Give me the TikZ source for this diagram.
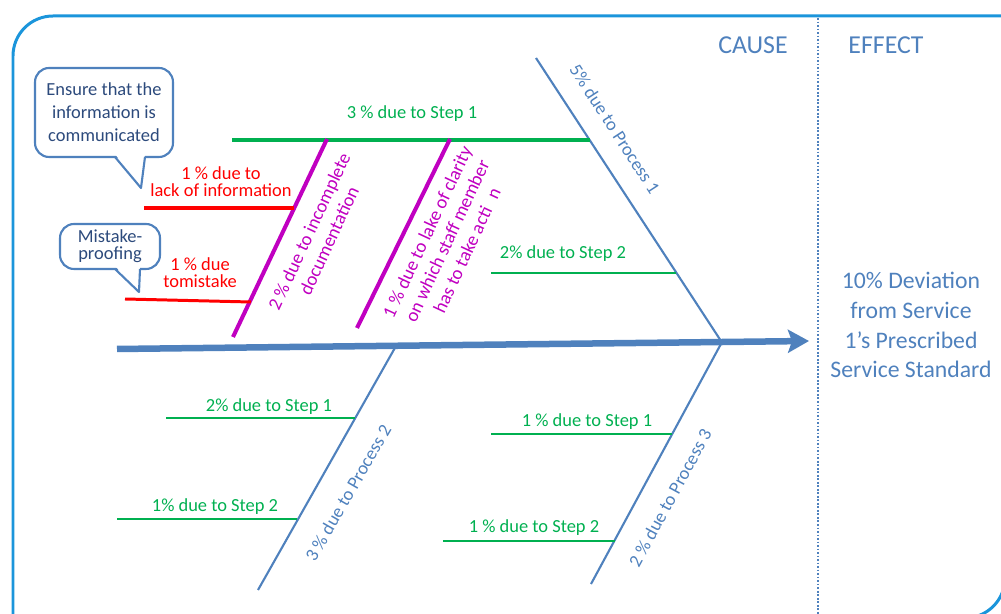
\documentclass[tikz,border=0pt]{standalone}
\usepackage{fontspec}
\setmainfont{Carlito}
\usetikzlibrary{arrows.meta}
\definecolor{fbblue}{HTML}{4F81BD}
\definecolor{fbframe}{HTML}{1B95DB}
\definecolor{fbgreen}{HTML}{00B050}
\definecolor{fbred}{HTML}{FF0000}
\definecolor{fbpurple}{HTML}{C000C0}
\definecolor{fbnavy}{HTML}{2C4A7C}

\begin{document}
\begin{tikzpicture}[x=0.02cm, y=-0.02cm,
    bone/.style={draw=fbblue, line width=1.2pt},
    grnline/.style={draw=fbgreen, line width=1.4pt},
    txt/.style={font=\fontsize{10.5}{10}\selectfont, inner sep=0pt, align=center},
    grnlbl/.style={txt, text=fbgreen},
    redlbl/.style={txt, text=fbred, font=\fontsize{10.5}{9.6}\selectfont},
    purlbl/.style={txt, text=fbpurple, font=\fontsize{10.7}{12.5}\selectfont},
    proclbl/.style={txt, text=fbblue},
    headlbl/.style={inner sep=0pt, text=fbblue, font=\fontsize{14.7}{16}\selectfont},
    callout/.style={draw=fbblue, line width=1.2pt, fill=white, rounded corners=0.28cm,
      align=center, text=fbnavy, inner sep=0pt},
  ]
  \useasboundingbox (0,0) rectangle (1001,614);
  \begin{scope}
    \clip (0,0) rectangle (1001,614);
    \draw[fbframe, line width=1.7pt, rounded corners=0.8cm] (13,660) -- (13,16) -- (1060,16);
    \draw[fbframe, line width=1.7pt, rounded corners=0.8cm] (1005,400) -- (1005,618) -- (900,618);
  \end{scope}
  \draw[fbblue, line width=0.6pt, dash pattern=on 1pt off 1pt] (818,18) -- (818,614);

  \node[headlbl] (cause) at (753,45) {CAUSE};
  \node[headlbl] (effecthead) at (886,45) {EFFECT};
  \node[txt, text=fbblue, font=\fontsize{13.5}{17}\selectfont] (effect) at (911,325)
    {10\% Deviation\\from Service\\1’s Prescribed\\Service Standard};

  % spine and bones
  \coordinate (tail) at (117,349);
  \coordinate (head) at (809,341);
  \coordinate (p1top) at (536,58);
  \coordinate (p1foot) at (721,341);
  \coordinate (p2top) at (396,346);
  \coordinate (p2end) at (258,590);
  \coordinate (p3top) at (722,342);
  \coordinate (p3end) at (591,584);
  \draw[fbblue, line width=3.7pt, -{Stealth[length=0.42cm, width=0.46cm, inset=0.08cm]}] (tail) -- (head);
  \draw[bone] (p1top) -- (p1foot);
  \draw[bone] (p2top) -- (p2end);
  \draw[bone] (p3top) -- (p3end);

  \node[proclbl, rotate=-57] (proc1) at (615,129) {5\% due to Process 1};
  \node[proclbl, rotate=60] (proc2) at (348,493) {3 \% due to Process 2};
  \node[proclbl, rotate=61.5] (proc3) at (670,498) {2 \% due to Process 3};

  % steps
  \coordinate (s11a) at (232,140);
  \coordinate (s11b) at (590,140);
  \coordinate (s12a) at (491,273);
  \coordinate (s12b) at (676,273);
  \coordinate (s21a) at (166,418);
  \coordinate (s21b) at (355,418);
  \coordinate (s22a) at (117,519);
  \coordinate (s22b) at (297,519);
  \coordinate (s31a) at (491,434);
  \coordinate (s31b) at (672,434);
  \coordinate (s32a) at (443,541);
  \coordinate (s32b) at (615,541);
  \draw[grnline, line width=2.3pt] (s11a) -- (s11b);
  \draw[grnline] (s12a) -- (s12b);
  \draw[grnline] (s21a) -- (s21b);
  \draw[grnline] (s22a) -- (s22b);
  \draw[grnline] (s31a) -- (s31b);
  \draw[grnline] (s32a) -- (s32b);

  \node[grnlbl] (step11) at (412,114) {3 \% due to Step 1};
  \node[grnlbl] (step12) at (563,254) {2\% due to Step 2};
  \node[grnlbl] (step21) at (269,407) {2\% due to Step 1};
  \node[grnlbl] (step22) at (215,507) {1\% due to Step 2};
  \node[grnlbl] (step31) at (587,422) {1 \% due to Step 1};
  \node[grnlbl] (step32) at (534,528) {1 \% due to Step 2};

  % sub causes
  \coordinate (inca) at (233,337);
  \coordinate (incb) at (327,139);
  \coordinate (clra) at (357,328);
  \coordinate (clrb) at (450,139);
  \coordinate (lacka) at (144,208);
  \coordinate (lackb) at (294,208);
  \coordinate (mista) at (125,299);
  \coordinate (mistb) at (251,302);
  \draw[fbpurple, line width=2.3pt] (inca) -- (incb);
  \draw[fbpurple, line width=2.3pt] (clra) -- (clrb);
  \draw[fbred, line width=2.3pt] (lacka) -- (lackb);
  \draw[fbred, line width=1.7pt] (mista) -- (mistb);

  \node[purlbl, rotate=65] (incomp) at (319,236) {2 \% due to incomplete\\documentation};
  \node[purlbl, rotate=65] (clarity) at (447,241)
    {1 \% due to lake of clarity\\on which staff member\\has to take acti\hspace{0.55em}n};
  \node[redlbl] (lackinfo) at (221,182) {1 \% due to\\lack of information};
  \node[redlbl] (tomist) at (200,273) {1 \% due\\tomistake};

  % callouts
  \node[callout, minimum width=2.76cm, minimum height=1.78cm, font=\fontsize{10.5}{13}\selectfont]
    (ensure) at (104,112.5) {Ensure that the\\information is\\communicated};
  \fill[white] (115,154) -- (141,188) -- (145,154) -- cycle;
  \draw[fbblue, line width=1.2pt, line join=round] (115,157) -- (141,188) -- (145,157);

  \node[callout, minimum width=2cm, minimum height=0.9cm, font=\fontsize{10.5}{9.8}\selectfont]
    (mistake) at (110,246.5) {Mistake-\\proofing};
  \fill[white] (115,266) -- (139,292) -- (140,266) -- cycle;
  \draw[fbblue, line width=1.2pt, line join=round] (115,269) -- (139,292) -- (140,269);
\end{tikzpicture}
\end{document}
